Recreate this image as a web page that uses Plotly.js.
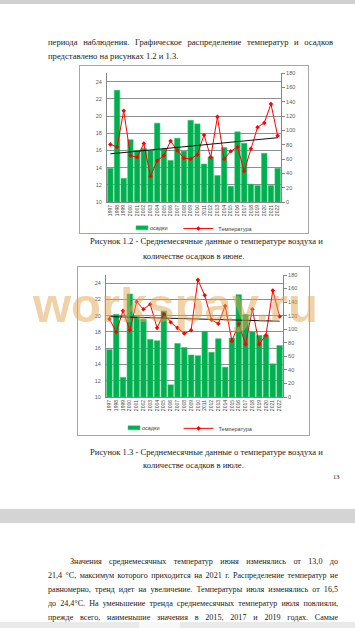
<!DOCTYPE html>
<html><head><meta charset="utf-8">
<script src="https://cdn.plot.ly/plotly-3.0.1.min.js"></script>
<style>
html,body{margin:0;padding:0}
body{width:355px;height:628px;overflow:hidden;background:#fff;position:relative;font-family:"Liberation Serif","Times New Roman",serif;color:#1a1a1a}
.ln{position:absolute;font-size:8.6px;line-height:14px;white-space:nowrap;height:14px;overflow:hidden}
.j{text-align:justify;text-align-last:justify;white-space:normal}
.p{font-size:8.1px}
.band{position:absolute;left:0;width:355px}
.box{position:absolute;border:1px solid #a6a6a6;background:#fff}
.wm{position:absolute;left:33px;top:281px;font-family:"Liberation Sans",Arial,sans-serif;font-weight:bold;font-size:49px;line-height:49px;color:rgba(226,166,84,0.5);white-space:nowrap;pointer-events:none}
</style></head><body>
<div class="band" style="top:0;height:4px;background:#d0d0d0"></div>
<div class="ln j" style="left:48px;top:35px;width:285px">периода наблюдения. Графическое распределение температур и осадков</div>
<div class="ln" style="left:48px;top:49px">представлено на рисунках 1.2 и 1.3.</div>

<div class="box" style="left:79px;top:65px;width:228px;height:167px"><div id="c1"></div></div>
<div class="ln" style="left:90px;top:234px">Рисунок 1.2 - Среднемесячные данные о температуре воздуха и</div>
<div class="ln" style="left:143px;top:249px">количестве осадков в июне.</div>

<div class="box" style="left:77px;top:266px;width:231px;height:168px"><div id="c2"></div></div>
<div class="ln" style="left:90px;top:445px">Рисунок 1.3 - Среднемесячные данные о температуре воздуха и</div>
<div class="ln" style="left:143px;top:458px">количестве осадков в июле.</div>
<div class="ln" style="left:333px;top:470px;font-size:6.5px">13</div>

<div class="band" style="top:509px;height:14px;background:#d4d4d4"></div>

<div class="ln j p" style="left:70px;top:555px;width:268px">Значения среднемесячных температур июня изменялись от 13,0 до</div>
<div class="ln j p" style="left:48px;top:569px;width:290px">21,4 °С, максимум которого приходится на 2021 г. Распределение температур не</div>
<div class="ln j p" style="left:48px;top:583px;width:290px">равномерно, тренд идет на увеличение. Температуры июля изменялись от 16,5</div>
<div class="ln j p" style="left:48px;top:597px;width:290px">до 24,4°С. На уменьшение тренда среднемесячных температур июля повлияли,</div>
<div class="ln j p" style="left:48px;top:611px;width:290px">прежде всего, наименьшие значения в 2015, 2017 и 2019 годах. Самые</div>
<div class="band" style="top:622px;height:6px;background:#e9e9e9"></div>
<div style="position:absolute;left:139px;top:622px;width:41px;height:6px;background:#f7f7f7"></div>

<div class="wm">workspay.ru</div>

<script>
const years = ['1997','1998','1999','2000','2001','2002','2003','2004','2005','2006','2007','2008','2009','2010','2011','2012','2013','2014','2015','2016','2017','2018','2019','2020','2021','2022'];
const junePrecip = [47,156,33,87,72,75,72,110,74,58,89,71,114,109,53,63,37,76,22,98,82,25,23,68,23,47];
const juneTemp = [16.7,16.4,20.6,15.4,15.2,16.8,13.0,14.8,15.4,17.1,16.0,15.1,15.0,15.5,17.8,15.2,19.9,15.0,15.9,16.4,13.6,16.2,18.7,19.2,21.4,17.7];
const julyPrecip = [70,122,29,152,119,115,85,83,127,18,79,73,62,61,97,66,86,44,87,151,122,96,91,91,49,76];
const julyTemp = [19.6,18.0,20.6,18.2,21.7,20.8,21.4,18.5,20.2,19.2,18.5,17.8,18.2,24.4,22.5,19.5,19.0,21.2,16.9,19.0,16.5,20.8,16.5,17.6,23.1,19.9];
const leftTicks = [10,12,14,16,18,20,22,24];
const rightTicks = [0,20,40,60,80,100,120,140,160,180];
const barName = 'осадки';
const lineName = 'Температура';

function trendOf(v){
  const n=v.length; let sx=0,sy=0,sxx=0,sxy=0;
  for(let i=0;i<n;i++){sx+=i;sy+=v[i];sxx+=i*i;sxy+=i*v[i];}
  const b=(n*sxy-sx*sy)/(n*sxx-sx*sx), a=(sy-b*sx)/n;
  return v.map((_,i)=>a+b*i);
}

function fixLegend(gd, tg){
  try{
    ['legend','legend2'].forEach((lid,k)=>{
      const lg = gd.querySelector('g.'+lid); if(!lg) return;
      lg.querySelectorAll('g.traces').forEach(tr=>{
        const t = tr.querySelector('text.legendtext'); if(!t) return;
        const tx = parseFloat(t.getAttribute('x'));
        const x0 = isNaN(tx)?40:tx;
        if(t.textContent.indexOf(barName)>=0){
          tr.querySelectorAll('.legendpoints path').forEach(p=>{
            p.setAttribute('d','M6,2H-6V-2H6Z');
            p.setAttribute('transform','translate('+(x0-8)+',0)');
          });
        } else {
          tr.querySelectorAll('.legendlines path').forEach(p=>{p.setAttribute('d','M'+(x0-14)+',0h13');});
          tr.querySelectorAll('.legendsymbols path').forEach(p=>{p.setAttribute('transform','translate('+(x0-7.5)+',0)');});
        }
        // align text to target position
        const r = t.getBoundingClientRect();
        const target = tg[k];
        const dx = target.x - r.left, dy = target.y - (r.top + r.height/2);
        const tf = lg.getAttribute('transform')||'';
        const m = tf.match(/translate\(\s*([-\d.e]+)[ ,]+([-\d.e]+)\s*\)/);
        let a=0,b=0; if(m){a=parseFloat(m[1]);b=parseFloat(m[2]);}
        if(Math.abs(dx)<60 && Math.abs(dy)<40){
          lg.setAttribute('transform','translate('+(a+dx)+','+(b+dy)+')');
        }
      });
    });
  }catch(e){}
}

function draw(id, precip, temp, g){
  const gray='#868686';
  const data=[
    {type:'bar',x:years,y:precip,name:barName,yaxis:'y',marker:{color:'#00b050',line:{color:'#2fc46e',width:0.5}},legend:'legend',hoverinfo:'skip'},
    {type:'scatter',mode:'lines+markers',x:years,y:temp,name:lineName,yaxis:'y2',line:{color:'#ff0000',width:1},marker:{symbol:'diamond',size:3.5,color:'#ff0000'},legend:'legend2',hoverinfo:'skip'},
    {type:'scatter',mode:'lines',x:years,y:trendOf(temp),yaxis:'y2',line:{color:'#111',width:1},showlegend:false,hoverinfo:'skip'}
  ];
  const layout={
    width:g.w,height:g.h,margin:{l:g.l,r:g.r,t:g.t,b:g.b,pad:0,autoexpand:false},
    paper_bgcolor:'#fff',plot_bgcolor:'rgba(0,0,0,0)',
    font:{family:'"Liberation Sans", Arial, sans-serif',size:5.5,color:'#595959'},
    bargap:0.18,showlegend:true,
    xaxis:{type:'category',range:[-0.5,25.5],tickangle:-90,tickfont:{size:5,color:'#404040'},showline:true,linecolor:gray,linewidth:1,ticks:'',showgrid:false,fixedrange:true},
    yaxis:{side:'right',range:[0,180],tickvals:rightTicks,showgrid:false,showline:true,linecolor:gray,linewidth:1,ticks:'outside',ticklen:3,tickcolor:gray,zeroline:false,tickfont:{size:5.5}},
    yaxis2:{overlaying:'y',side:'left',range:[10,25],tickvals:leftTicks,showgrid:true,gridcolor:'#8f8f8f',gridwidth:1,showline:true,linecolor:gray,linewidth:1,ticks:'',zeroline:false,tickfont:{size:5.5},ticklabelstandoff:3},
    legend:{orientation:'h',x:g.lx1,y:g.ly,xanchor:'left',yanchor:'middle',font:{size:5.5,color:'#404040'},bgcolor:'rgba(0,0,0,0)'},
    legend2:{orientation:'h',x:g.lx2,y:g.ly,xanchor:'left',yanchor:'middle',font:{size:5.5,color:'#404040'},bgcolor:'rgba(0,0,0,0)'}
  };
  return Plotly.newPlot(id,data,layout,{staticPlot:true,displayModeBar:false}).then(gd=>{
    fixLegend(gd,g.tg);
    return gd;
  });
}

draw('c1',junePrecip,juneTemp,{w:228,h:167,l:27,r:27,t:7,b:31,lx1:0.046,lx2:0.41,ly:-0.205,tg:[{x:150,y:228},{x:220,y:228}]});
draw('c2',julyPrecip,julyTemp,{w:231,h:168,l:28,r:26,t:8,b:38,lx1:0.0,lx2:0.41,ly:-0.257,tg:[{x:142,y:428},{x:220,y:428}]});
</script>
</body></html>
